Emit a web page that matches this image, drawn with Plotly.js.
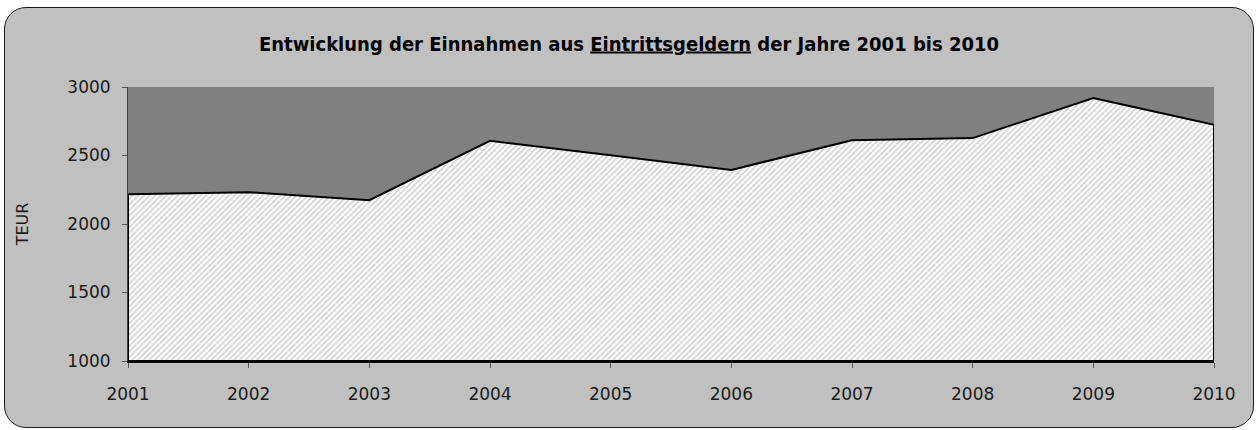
<!DOCTYPE html>
<html>
<head>
<meta charset="utf-8">
<script src="https://cdn.plot.ly/plotly-3.0.1.min.js"></script>
<style>
  html, body { margin: 0; padding: 0; background: #ffffff; }
  #wrap { position: relative; width: 1258px; height: 430px; }
  #frame { position: absolute; left: 4px; top: 7px; width: 1250px; height: 421px; box-sizing: border-box;
           border: 1.5px solid #1a1a1a; border-radius: 22px; background: #c0c0c0; }
  #chart { position: absolute; left: 0; top: 0; width: 1258px; height: 430px; }
</style>
</head>
<body>
<div id="wrap">
  <div id="frame"></div>
  <div id="chart"></div>
</div>
<script>
const years = [2001, 2002, 2003, 2004, 2005, 2006, 2007, 2008, 2009, 2010];
const einnahmen = [2218, 2232, 2174, 2607, 2502, 2395, 2611, 2627, 2920, 2724];
const yMin = 1000, yMax = 3000;
const yTicks = [1000, 1500, 2000, 2500, 3000];
const titleText = 'Entwicklung der Einnahmen aus <u>Eintrittsgeldern</u> der Jahre 2001 bis 2010';
const yTitle = 'TEUR';

// closed area polygon built from the data arrays
const polyX = years.concat([years[years.length - 1], years[0], years[0]]);
const polyY = einnahmen.concat([yMin, yMin, einnahmen[0]]);

const trace = {
  type: 'scatter',
  mode: 'lines',
  x: polyX,
  y: polyY,
  fill: 'toself',
  fillcolor: '#ffffff',
  fillpattern: { shape: '/', fgcolor: '#cacaca', bgcolor: '#ffffff', size: 4, solidity: 0.35 },
  line: { color: '#000000', width: 2 },
  hoverinfo: 'skip',
  showlegend: false
};

const tickFont = { family: 'DejaVu Sans, sans-serif', size: 17, color: '#1a1a1a' };

const layout = {
  width: 1258,
  height: 430,
  margin: { l: 128, r: 44, t: 87, b: 69 },
  paper_bgcolor: 'rgba(0,0,0,0)',
  plot_bgcolor: '#808080',
  title: {
    text: titleText,
    x: 0.5, xref: 'container', xanchor: 'center',
    y: 44, yref: 'container', yanchor: 'middle',
    font: { family: 'DejaVu Sans Condensed, DejaVu Sans, sans-serif', size: 20, color: '#000000', weight: 'bold', stretch: 'condensed' }
  },
  xaxis: {
    range: [years[0], years[years.length - 1]],
    tickvals: years,
    ticktext: years.map(String),
    showgrid: false, zeroline: false,
    showline: true, linecolor: '#000000', linewidth: 2,
    ticks: 'outside', ticklen: 5, tickwidth: 1, tickcolor: '#555555',
    ticklabelstandoff: 12,
    tickfont: tickFont,
    fixedrange: true
  },
  yaxis: {
    range: [yMin, yMax],
    tickvals: yTicks,
    ticktext: yTicks.map(String),
    showgrid: false, zeroline: false,
    showline: true, linecolor: '#404040', linewidth: 1,
    ticks: 'outside', ticklen: 5, tickwidth: 1, tickcolor: '#555555',
    ticklabelstandoff: 8,
    tickfont: tickFont,
    title: { text: yTitle, font: { family: 'DejaVu Sans, sans-serif', size: 16, color: '#1a1a1a' }, standoff: 34 },
    fixedrange: true
  }
};

Plotly.newPlot('chart', [trace], layout, { displayModeBar: false, staticPlot: true });
</script>
</body>
</html>
